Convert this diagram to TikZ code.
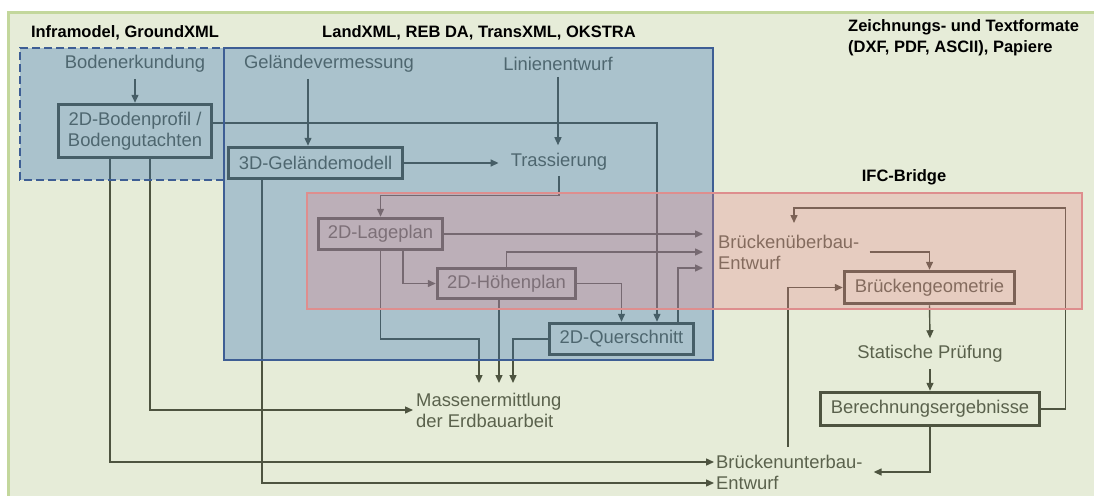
\documentclass[tikz,border=0pt]{standalone}
\usepackage{fontspec}
\setmainfont{Liberation Sans}
\usetikzlibrary{arrows.meta}
\definecolor{ink}{HTML}{2A2A2A}
\definecolor{inktext}{HTML}{3C3C3C}
\definecolor{greenov}{HTML}{A8C077}
\definecolor{greenedge}{HTML}{C3D79C}
\definecolor{blueov}{HTML}{3872B5}
\definecolor{blueedge}{HTML}{3E5E94}
\definecolor{pinkov}{HTML}{E7848A}
\definecolor{pinkedge}{HTML}{DE8E8E}
\begin{document}
\begin{tikzpicture}[x=1pt,y=-1pt,
  lbl/.style={inner sep=0pt, text=inktext, font=\fontsize{18.4}{21}\selectfont, align=center},
  box/.style={draw=ink, line width=3.5pt, inner sep=0pt, text=inktext,
    font=\fontsize{18.4}{21}\selectfont, align=center},
  arr/.style={draw=ink, line width=1.4pt, -{Triangle[length=8pt,width=7pt]}},
  ttl/.style={inner sep=0pt, text=black, font=\fontsize{16.5}{21}\selectfont\bfseries}]
\useasboundingbox (0,0) rectangle (1094,495);
\fill[white] (0,0) rectangle (1094,495);

% process steps (plain labels)
\node[lbl] (erk) at (135,64) {Bodenerkundung};
\node[lbl] (verm) at (329,64) {Geländevermessung};
\node[lbl] (linie) at (558,64) {Linienentwurf};
\node[lbl] (trass) at (559,162) {Trassierung};
\node[lbl, anchor=west, align=left] (ueber) at (718,252) {Brückenüberbau-\\Entwurf};
\node[lbl] (stat) at (930,354) {Statische Prüfung};
\node[lbl, anchor=west, align=left] (massen) at (416,410) {Massenermittlung\\der Erdbauarbeit};
\node[lbl, anchor=west, align=left] (unter) at (716,472) {Brückenunterbau-\\Entwurf};

% data models (framed)
\node[box, minimum width=153pt, minimum height=53pt] (profil) at (135,131) {2D-Bodenprofil /\\Bodengutachten};
\node[box, minimum width=174pt, minimum height=31pt] (modell) at (315.5,163) {3D-Geländemodell};
\node[box, minimum width=124pt, minimum height=31pt] (lage) at (380.5,234) {2D-Lageplan};
\node[box, minimum width=138pt, minimum height=30pt] (hoehe) at (506.5,283.5) {2D-Höhenplan};
\node[box, minimum width=144pt, minimum height=31pt] (quer) at (621.5,339) {2D-Querschnitt};
\node[box, minimum width=170pt, minimum height=32pt] (geom) at (929.5,287.5) {Brückengeometrie};
\node[box, minimum width=219pt, minimum height=33pt] (ber) at (930,409) {Berechnungsergebnisse};

% connector end points
\coordinate (uein) at ([xshift=-15pt]ueber.west);
\coordinate (uetop) at (794,223);
\coordinate (ma) at (479,383);
\coordinate (mc) at (513,383);

% connectors
\draw[arr] ([yshift=-6pt]erk.south) -- (profil.north);
\draw[arr] ([xshift=-7.5pt,yshift=-6pt]modell.north |- verm.south) -- ([xshift=-7.5pt]modell.north);
\draw[arr] ([yshift=-6pt]linie.south) -- ([yshift=8pt]linie.south |- trass.north);
\draw[arr] (modell.east) -- ([xshift=-12pt]trass.west |- modell.east);
\draw[arr] ([yshift=8pt]profil.east) -| ([xshift=35.5pt]quer.north);
\draw[arr] ([yshift=-5pt]trass.south) -- ++(0,20) -| (lage.north);
\draw[arr] (lage.east) -- (lage.east -| uein);
\draw[arr] (hoehe.north) |- (uein);
\draw[arr] ([xshift=56.5pt]quer.north) |- ([yshift=-16pt]uein);
\draw[arr] ([xshift=22.5pt]lage.south) |- (hoehe.west);
\draw[arr] (hoehe.east) -| (quer.north);
\draw[arr] (lage.south) |- (quer.west -| ma) -- (ma);
\draw[arr] ([xshift=-7.5pt]hoehe.south) -- ([xshift=-7.5pt]hoehe.south |- ma);
\draw[arr] (quer.west) -| (mc);
\draw[arr] ([xshift=15pt]profil.south) |- ([xshift=-3pt]massen.west);
\draw[arr] ([xshift=-25pt]profil.south) |- ([xshift=-2pt,yshift=10pt]unter.west);
\draw[arr] ([xshift=-53.5pt]modell.south) |- ([xshift=-2pt,yshift=-11pt]unter.west);
\draw[arr] (ber.south) |- ([xshift=11pt]unter.east);
\draw[arr] (ber.east) -| ++(24,-201) -| (uetop);
\draw[arr] ([xshift=10pt]ueber.east) -| (geom.north);
\draw[arr] ([xshift=72pt,yshift=8pt]unter.north west) |- (geom.west);
\draw[arr] (geom.south) -- ([yshift=7pt]stat.north);
\draw[arr] ([yshift=-6pt]stat.south) -- (ber.north);

% translucent format areas laid over the process chart
\fill[greenov, fill opacity=0.286] (8,13) rectangle (1110,510);
\draw[greenedge, line width=3pt] (8,510) -- (8,13) -- (1110,13);
\fill[blueov, fill opacity=0.34] (20,48) rectangle (224,180);
\fill[blueov, fill opacity=0.34] (224,48) rectangle (713,360);
\draw[blueedge, line width=2.8pt, dash pattern=on 8pt off 4pt] (224,180) -- (20,180) -- (20,48) -- (224,48);
\draw[blueedge, line width=2.6pt] (224,48) rectangle (713,360);
\fill[pinkov, fill opacity=0.3] (307,193) rectangle (1082,309);
\draw[pinkedge, line width=2.6pt] (307,193) rectangle (1082,309);

% format headings
\node[ttl] (tinfra) at (125,33) {Inframodel,\ GroundXML};
\node[ttl] (tland) at (479,33) {LandXML, REB DA, TransXML, OKSTRA};
\node[ttl, anchor=west, align=left] (tzeich) at (848,38) {Zeichnungs-\ und Textformate\\(DXF, PDF, ASCII), Papiere};
\node[ttl] (tifc) at (904,177) {IFC-Bridge};
\end{tikzpicture}
\end{document}
